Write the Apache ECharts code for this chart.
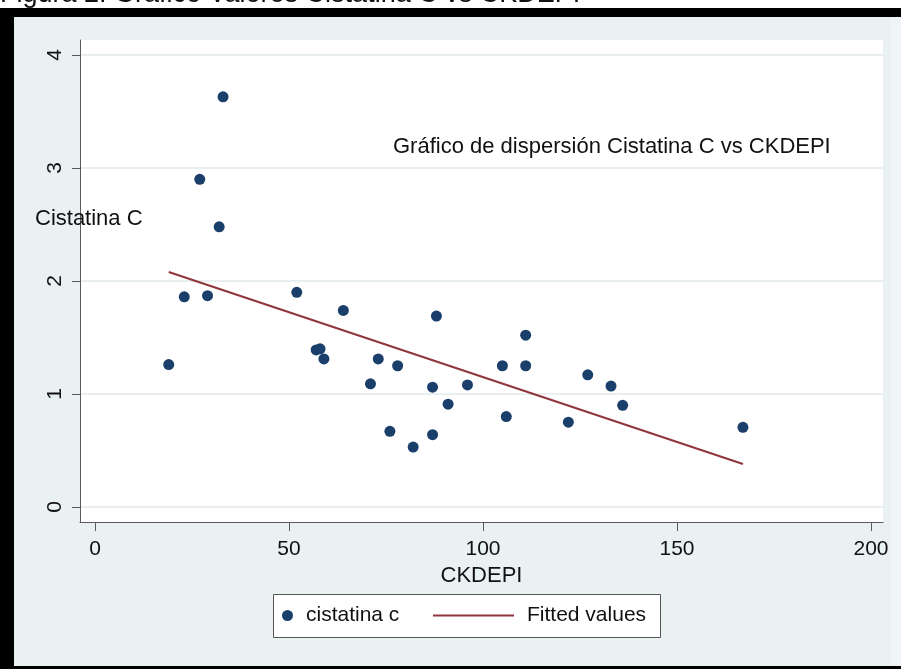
<!DOCTYPE html>
<html>
<head>
<meta charset="utf-8">
<script src="https://cdn.jsdelivr.net/npm/echarts@6/dist/echarts.min.js"></script>
<style>
html,body{margin:0;padding:0;background:#fff;}
#chart{width:901px;height:669px;}
</style>
</head>
<body>
<div id="chart"></div>
<script>
// Data
const ckdepi = [19, 23, 27, 29, 32, 33, 52, 57, 58, 59, 64, 71, 73, 76, 78, 82, 87, 87, 88, 91, 96, 105, 106, 111, 111, 122, 127, 133, 136, 167];
const cistatina = [1.26, 1.86, 2.90, 1.87, 2.48, 3.63, 1.90, 1.39, 1.40, 1.31, 1.74, 1.09, 1.31, 0.67, 1.25, 0.53, 1.06, 0.64, 1.69, 0.91, 1.08, 1.25, 0.80, 1.52, 1.25, 0.75, 1.17, 1.07, 0.90, 0.705];
const fitX = [19, 167];
const fitY = [2.08, 0.38];
const xTicks = [0, 50, 100, 150, 200];
const yTicks = [0, 1, 2, 3, 4];
const seriesNames = ['cistatina c', 'Fitted values'];
const caption = 'Figura 2. Gráfico Valores Cistatina C vs CKDEPI';
const yTitle = 'Cistatina C';
const xTitle = 'CKDEPI';
const note = 'Gráfico de dispersión Cistatina C vs CKDEPI';

const FONT = '"Liberation Sans", Arial, sans-serif';
const chart = echarts.init(document.getElementById('chart'), null, {renderer: 'canvas'});

const scatterData = ckdepi.map((x, i) => [x, cistatina[i]]);
const fitData = fitX.map((x, i) => [x, fitY[i]]);

chart.setOption({
  backgroundColor: '#e9f1f3',
  animation: false,
  textStyle: {fontFamily: FONT},
  grid: {
    left: 80, right: 18, top: 40, bottom: 147,
    show: true, backgroundColor: '#ffffff', borderWidth: 0, containLabel: false
  },
  xAxis: {
    type: 'value',
    min: -3.87, max: 203.1,
    name: xTitle,
    nameLocation: 'middle',
    nameGap: 29,
    nameTextStyle: {fontSize: 22, color: '#111', fontFamily: FONT},
    axisLine: {show: true, onZero: false, lineStyle: {color: '#5a5a5a', width: 1}},
    axisTick: {show: true, length: 9, customValues: xTicks, lineStyle: {color: '#5a5a5a'}},
    axisLabel: {customValues: xTicks, fontSize: 21, color: '#111', margin: 17, fontFamily: FONT},
    splitLine: {show: false}
  },
  yAxis: {
    type: 'value',
    min: -0.133, max: 4.133,
    axisLine: {show: true, onZero: false, lineStyle: {color: '#5a5a5a', width: 1}},
    axisTick: {show: true, length: 8, customValues: yTicks, lineStyle: {color: '#5a5a5a'}},
    axisLabel: {customValues: yTicks, fontSize: 21, color: '#111', rotate: 90, margin: 14, fontFamily: FONT},
    splitLine: {show: true, lineStyle: {color: '#e2eaec', width: 1.5}}
  },
  legend: [
    {
      data: [{name: seriesNames[0], icon: 'circle', itemStyle: {color: '#1a3f6b', opacity: 1}}],
      left: 282, top: 605,
      itemWidth: 11, itemHeight: 11,
      padding: 0,
      z: 10,
      textStyle: {fontSize: 21, color: '#111', fontFamily: FONT, padding: [0, 0, 0, 8]}
    },
    {
      data: [{name: seriesNames[1], icon: 'rect', itemStyle: {color: '#90353b'}}],
      left: 433, top: 605,
      itemWidth: 81, itemHeight: 2,
      padding: 0,
      z: 10,
      textStyle: {fontSize: 21, color: '#111', fontFamily: FONT, padding: [0, 0, 0, 8]}
    }
  ],
  graphic: [
    {type: 'rect', z: -1, shape: {x: 0, y: 0, width: 901, height: 8}, style: {fill: '#ffffff'}},
    {type: 'text', z: 1, style: {text: caption, x: 0, y: -5, fontSize: 27, fontFamily: FONT, fill: '#111', verticalAlign: 'middle'}},
    {type: 'rect', z: 2, shape: {x: 0, y: 8, width: 901, height: 9}, style: {fill: '#000'}},
    {type: 'rect', z: 2, shape: {x: 0, y: 8, width: 14, height: 661}, style: {fill: '#000'}},
    {type: 'rect', z: 2, shape: {x: 0, y: 666, width: 901, height: 3}, style: {fill: '#000'}},
    {type: 'rect', z: -1, shape: {x: 891, y: 17, width: 10, height: 649}, style: {fill: '#eff5f6'}},
    {type: 'rect', z: 5, shape: {x: 273.5, y: 594.5, width: 387, height: 43}, style: {fill: '#ffffff', stroke: '#555', lineWidth: 1}},
    {type: 'text', z: 6, style: {text: yTitle, x: 35, y: 219, fontSize: 22, fontFamily: FONT, fill: '#111', verticalAlign: 'middle'}},
    {type: 'text', z: 6, style: {text: note, x: 393, y: 147, fontSize: 22, fontFamily: FONT, fill: '#111', verticalAlign: 'middle'}}
  ],
  series: [
    {
      name: seriesNames[0],
      type: 'scatter',
      data: scatterData,
      symbol: 'circle',
      symbolSize: 11,
      itemStyle: {color: '#1a3f6b', opacity: 1},
      z: 3
    },
    {
      name: seriesNames[1],
      type: 'line',
      data: fitData,
      showSymbol: false,
      symbol: 'none',
      lineStyle: {color: '#90353b', width: 2},
      itemStyle: {color: '#90353b'},
      z: 2
    }
  ]
});
</script>
</body>
</html>
